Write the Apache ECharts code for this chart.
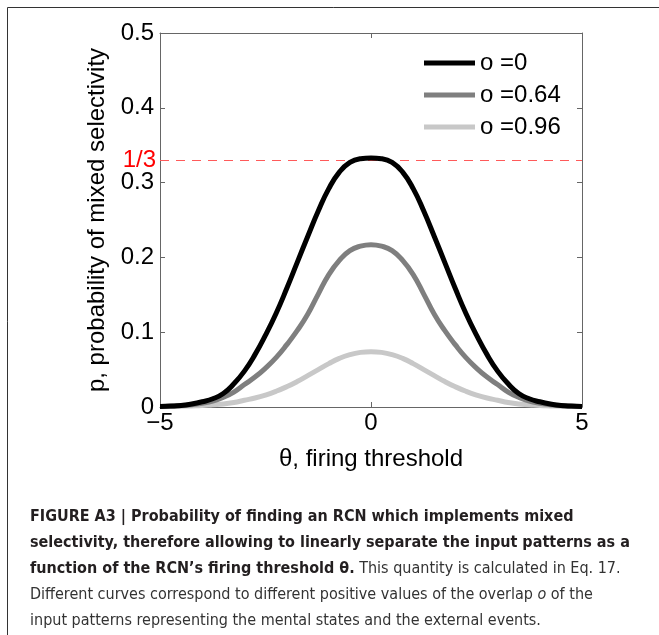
<!DOCTYPE html>
<html>
<head>
<meta charset="utf-8">
<script src="https://cdn.jsdelivr.net/npm/echarts@6/dist/echarts.min.js"></script>
<style>
  html, body { margin: 0; padding: 0; background: #fff; }
  #chart { width: 659px; height: 635px; }
</style>
</head>
<body>
<div id="chart"></div>
<script>
// ---- data ----
const thetas = [-5, -4.75, -4.5, -4.25, -4, -3.75, -3.5, -3.25, -3, -2.75, -2.5, -2.25, -2, -1.75, -1.5, -1.25, -1, -0.75, -0.5, -0.25, 0,
  0.25, 0.5, 0.75, 1, 1.25, 1.5, 1.75, 2, 2.25, 2.5, 2.75, 3, 3.25, 3.5, 3.75, 4, 4.25, 4.5, 4.75, 5];
const seriesNames = ['o =0', 'o =0.64', 'o =0.96'];
const pOverlap0 = [0.0008, 0.0012, 0.002, 0.004, 0.007, 0.011, 0.018, 0.031, 0.048, 0.070, 0.096, 0.125, 0.158, 0.193, 0.228, 0.262, 0.292, 0.314, 0.327, 0.332, 0.333,
  0.332, 0.327, 0.314, 0.292, 0.262, 0.228, 0.193, 0.158, 0.125, 0.096, 0.070, 0.048, 0.031, 0.018, 0.011, 0.007, 0.004, 0.002, 0.0012, 0.0008];
const pOverlap064 = [0.0006, 0.001, 0.002, 0.003, 0.005, 0.008, 0.013, 0.020, 0.030, 0.040, 0.052, 0.066, 0.083, 0.102, 0.124, 0.151, 0.177, 0.196, 0.209, 0.215, 0.217,
  0.215, 0.209, 0.196, 0.177, 0.151, 0.124, 0.102, 0.083, 0.066, 0.052, 0.040, 0.030, 0.020, 0.013, 0.008, 0.005, 0.003, 0.002, 0.001, 0.0006];
const pOverlap096 = [0.0004, 0.0006, 0.001, 0.0015, 0.002, 0.003, 0.004, 0.006, 0.009, 0.012, 0.016, 0.021, 0.027, 0.034, 0.042, 0.050, 0.058, 0.065, 0.070, 0.073, 0.074,
  0.073, 0.070, 0.065, 0.058, 0.050, 0.042, 0.034, 0.027, 0.021, 0.016, 0.012, 0.009, 0.006, 0.004, 0.003, 0.002, 0.0015, 0.001, 0.0006, 0.0004];
const refLevel = 1 / 3;
const refLabel = '1/3';
const xTicks = [-5, 0, 5];
const yTicks = [0, 0.1, 0.2, 0.3, 0.4, 0.5];
const xTitle = 'θ, firing threshold';
const yTitle = 'p, probability of mixed selectivity';

const FONT = '"Liberation Sans", Arial, Helvetica, sans-serif';
const CAPFONT = '"DejaVu Sans Condensed", "Liberation Sans", sans-serif';
const colors = ['#000000', '#7f7f7f', '#c8c8c8'];
const allSeries = [pOverlap0, pOverlap064, pOverlap096];

const chart = echarts.init(document.getElementById('chart'), null, { renderer: 'canvas' });

const grid = { left: 160, top: 33, width: 422, height: 374 };
const axisLineStyle = { color: '#666', width: 1 };

function fmtX(v) { return v < 0 ? '\u2212' + Math.abs(v) : String(v); }
function fmtY(v) { return v === 0 ? '0' : v.toFixed(1); }

const series = allSeries.map((vals, i) => ({
  name: seriesNames[i],
  type: 'line',
  xAxisIndex: 0,
  yAxisIndex: 0,
  data: thetas.map((t, k) => [t, vals[k]]),
  showSymbol: false,
  smooth: 0.5,
  lineStyle: { color: colors[i], width: 5 },
  itemStyle: { color: colors[i] },
  z: 10 - i,
  animation: false
}));

series.push({
  name: 'ref',
  type: 'line',
  data: [],
  silent: true,
  markLine: {
    silent: true,
    symbol: 'none',
    animation: false,
    lineStyle: { color: '#ff5a5a', type: [9, 7], width: 1 },
    label: {
      show: true,
      position: 'start',
      formatter: refLabel,
      color: '#ff0000',
      fontSize: 24,
      fontFamily: FONT,
      distance: 4
    },
    data: [{ yAxis: refLevel }]
  },
  z: 1
});

const captionLines = [
  [{ t: 'FIGURE A3 | Probability of finding an RCN which implements mixed', s: 'b' }],
  [{ t: 'selectivity, therefore allowing to linearly separate the input patterns as a', s: 'b' }],
  [{ t: 'function of the RCN\u2019s firing threshold \u03b8.', s: 'b' }, { t: ' This quantity is calculated in Eq. 17.', s: 'n' }],
  [{ t: 'Different curves correspond to different positive values of the overlap ', s: 'n' }, { t: 'o', s: 'i' }, { t: ' of the', s: 'n' }],
  [{ t: 'input patterns representing the mental states and the external events.', s: 'n' }]
];
const capY = [509, 535, 561, 587, 613];

const graphics = [
  { type: 'line', shape: { x1: 7.5, y1: 7.5, x2: 659, y2: 7.5 }, style: { stroke: '#333', lineWidth: 1 } },
  { type: 'line', shape: { x1: 7.5, y1: 7.5, x2: 7.5, y2: 635 }, style: { stroke: '#333', lineWidth: 1 } }
];
captionLines.forEach((segs, i) => {
  graphics.push({
    type: 'text',
    left: 30,
    top: capY[i],
    style: {
      text: segs.map(s => '{' + s.s + '|' + s.t + '}').join(''),
      rich: {
        b: { fontFamily: CAPFONT, fontWeight: 'bold', fontSize: 16, fill: '#231f20' },
        n: { fontFamily: CAPFONT, fontWeight: 'normal', fontSize: 16, fill: '#333' },
        i: { fontFamily: CAPFONT, fontStyle: 'italic', fontSize: 16, fill: '#333' }
      }
    }
  });
});

chart.setOption({
  backgroundColor: '#fff',
  animation: false,
  grid: grid,
  legend: {
    show: true,
    orient: 'vertical',
    left: 424,
    top: 51,
    padding: 0,
    itemWidth: 51,
    itemHeight: 5,
    itemGap: 8,
    icon: 'rect',
    data: seriesNames,
    textStyle: { fontSize: 24, fontFamily: FONT, color: '#000', padding: [0, 0, 0, 0] },
    selectedMode: false
  },
  xAxis: [{
    type: 'value',
    min: -5, max: 5, interval: 5,
    name: xTitle,
    nameLocation: 'middle',
    nameGap: 40,
    nameTextStyle: { fontSize: 24, fontFamily: FONT, color: '#000' },
    axisLine: { show: true, onZero: false, lineStyle: axisLineStyle },
    axisTick: { show: true, inside: true, length: 5, lineStyle: axisLineStyle },
    axisLabel: { fontSize: 24, fontFamily: FONT, color: '#000', margin: 4, formatter: fmtX,
      customValues: xTicks },
    splitLine: { show: false }
  }, {
    type: 'value', position: 'top',
    min: -5, max: 5, interval: 5,
    axisLine: { show: true, onZero: false, lineStyle: axisLineStyle },
    axisTick: { show: true, inside: true, length: 5, lineStyle: axisLineStyle },
    axisLabel: { show: false },
    splitLine: { show: false }
  }],
  yAxis: [{
    type: 'value',
    min: 0, max: 0.5, interval: 0.1,
    name: yTitle,
    nameLocation: 'middle',
    nameRotate: 90,
    nameGap: 43,
    nameTextStyle: { fontSize: 24, fontFamily: FONT, color: '#000' },
    axisLine: { show: true, onZero: false, lineStyle: axisLineStyle },
    axisTick: { show: true, inside: true, length: 5, lineStyle: axisLineStyle },
    axisLabel: { fontSize: 24, fontFamily: FONT, color: '#000', margin: 6, formatter: fmtY,
      customValues: yTicks },
    splitLine: { show: false }
  }, {
    type: 'value', position: 'right',
    min: 0, max: 0.5, interval: 0.1,
    axisLine: { show: true, onZero: false, lineStyle: axisLineStyle },
    axisTick: { show: true, inside: true, length: 5, lineStyle: axisLineStyle },
    axisLabel: { show: false },
    splitLine: { show: false }
  }],
  series: series,
  graphic: graphics
});
</script>
</body>
</html>
